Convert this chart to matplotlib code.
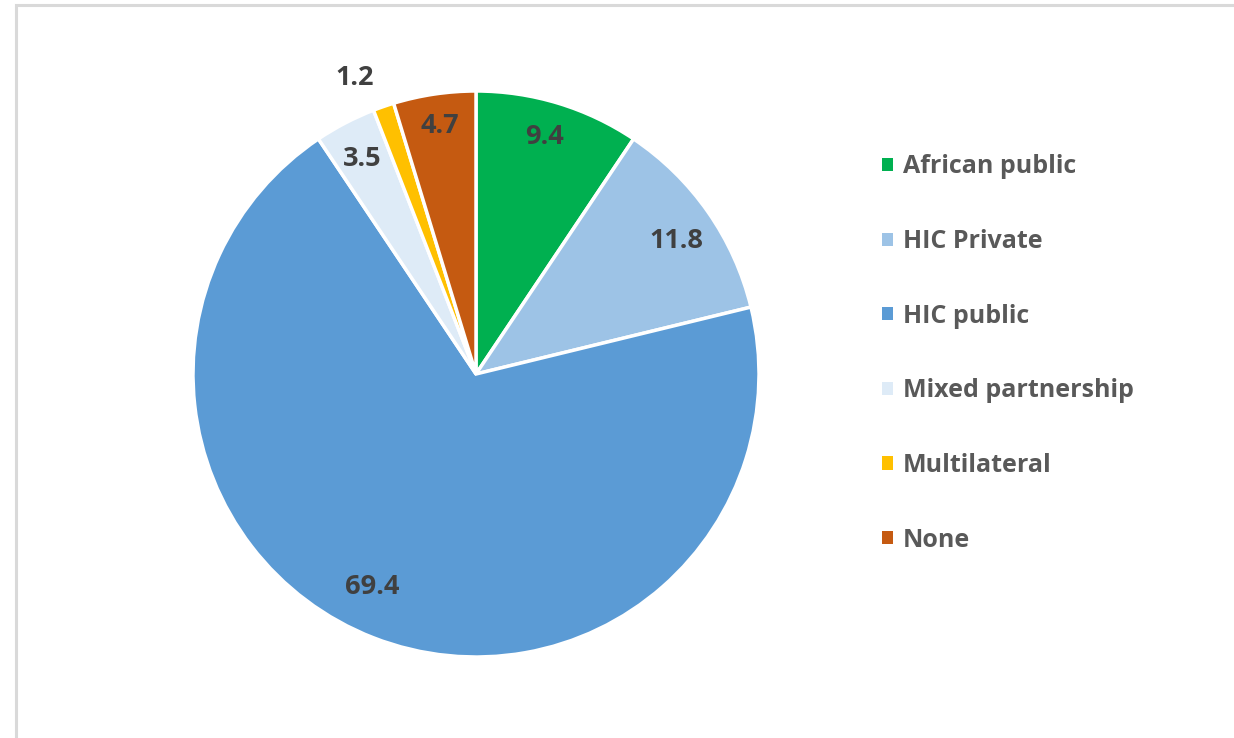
import numpy as np
import matplotlib
matplotlib.use("Agg")
import matplotlib.pyplot as plt
from matplotlib.patches import Rectangle

# funding source shares (%)
categories = ["African public", "HIC Private", "HIC public",
              "Mixed partnership", "Multilateral", "None"]
shares = [9.4, 11.8, 69.4, 3.5, 1.2, 4.7]
colors = ["#00B050", "#9DC3E6", "#5B9BD5", "#DEEBF7", "#FFC000", "#C55A11"]

# label placement: radius (fraction of pie radius) and angle nudge (deg)
label_r = [0.872, 0.85, 0.837, 0.86, 1.13, 0.886]
label_da = [0.7, -1.4, -4.8, 0.4, 3.3, -0.2]

plt.rcParams['font.family'] = ['Open Sans', 'DejaVu Sans']

W, H = 1234, 738
fig = plt.figure(figsize=(W / 100, H / 100), dpi=100)

# light grey frame of the chart area
fig.patches.append(Rectangle((16 / W, -0.05), 1.2, 1 - 5.5 / H + 0.05,
                             transform=fig.transFigure, fill=False,
                             edgecolor="#d9d9d9", linewidth=2.2))

cx, cy, r = 476, 374, 283
ax = fig.add_axes([(cx - r) / W, (H - cy - r) / H, 2 * r / W, 2 * r / H])

wedges, _ = ax.pie(shares, colors=colors, startangle=90, counterclock=False,
                   radius=1, wedgeprops=dict(edgecolor="white", linewidth=2.5))
ax.set_xlim(-1, 1)
ax.set_ylim(-1, 1)
ax.set_aspect("equal")
ax.axis("off")

for w, v, lr, da in zip(wedges, shares, label_r, label_da):
    mid = np.deg2rad((w.theta1 + w.theta2) / 2 + da)
    ax.text(lr * np.cos(mid), lr * np.sin(mid), f"{v:.1f}",
            ha="center", va="center", fontsize=19.5, fontweight="bold",
            color="#404040")

# plain square legend keys (no white wedge edge)
handles = [Rectangle((0, 0), 1, 1, facecolor=c, edgecolor="none") for c in colors]
leg = fig.legend(handles, categories, loc="center left",
                 bbox_to_anchor=(882 / W, 1 - 353.5 / H), frameon=False,
                 fontsize=18, handlelength=0.44, handleheight=0.44,
                 handletextpad=0.4, labelspacing=1.985, borderpad=0,
                 borderaxespad=0)
for t in leg.get_texts():
    t.set_fontweight("bold")
    t.set_color("#595959")

fig.savefig("out.png", dpi=100)
